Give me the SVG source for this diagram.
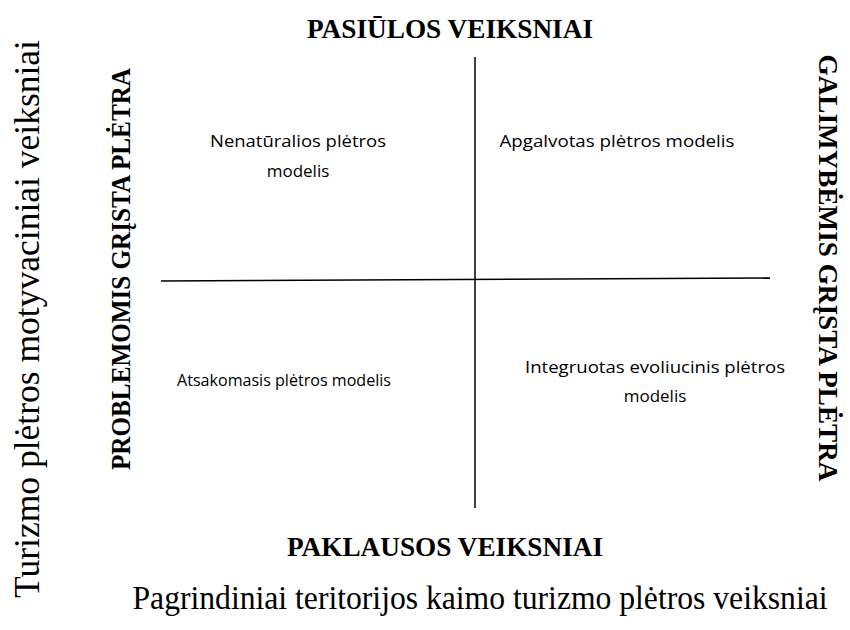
<svg xmlns="http://www.w3.org/2000/svg" width="850" height="630" viewBox="0 0 850 630">
<style>
.tb{font-family:"Liberation Serif","Times New Roman",serif;font-weight:bold;fill:#000}
.tr{font-family:"Liberation Serif","Times New Roman",serif;fill:#000}
.q{font-family:"Open Sans","Noto Sans",sans-serif;font-size:17px;fill:#000}
.ax{stroke:#000;stroke-width:1.5;fill:none}
</style>
<rect width="850" height="630" fill="#fff"/>
<g id="axes">
<line class="ax" x1="475" y1="57" x2="475" y2="508"/>
<line class="ax" x1="161" y1="281" x2="770" y2="278"/>
</g>
<g id="top-label"><text class="tb" x="450" y="38" font-size="28" text-anchor="middle" textLength="286" lengthAdjust="spacingAndGlyphs">PASIŪLOS VEIKSNIAI</text></g>
<g id="bottom-label"><text class="tb" x="445" y="556" font-size="28" text-anchor="middle" textLength="316" lengthAdjust="spacingAndGlyphs">PAKLAUSOS VEIKSNIAI</text></g>
<g id="left-label"><text class="tb" transform="translate(130,269) rotate(-90)" font-size="28" text-anchor="middle" textLength="402" lengthAdjust="spacingAndGlyphs">PROBLEMOMIS GRĮSTA PLĖTRA</text></g>
<g id="right-label"><text class="tb" transform="translate(819,268) rotate(90)" font-size="28" text-anchor="middle" textLength="427" lengthAdjust="spacingAndGlyphs">GALIMYBĖMIS GRĮSTA PLĖTRA</text></g>
<g id="y-axis-title"><text class="tr" transform="translate(39,319) rotate(-90)" font-size="35" text-anchor="middle" textLength="558" lengthAdjust="spacingAndGlyphs">Turizmo plėtros motyvaciniai veiksniai</text></g>
<g id="x-axis-title"><text class="tr" x="480" y="609" font-size="33" text-anchor="middle" textLength="695" lengthAdjust="spacingAndGlyphs">Pagrindiniai teritorijos kaimo turizmo plėtros veiksniai</text></g>
<g id="q1"><text class="q" x="298" y="147" text-anchor="middle" textLength="176" lengthAdjust="spacingAndGlyphs">Nenatūralios plėtros</text><text class="q" x="298" y="177" text-anchor="middle">modelis</text></g>
<g id="q2"><text class="q" x="617" y="147" text-anchor="middle" textLength="235" lengthAdjust="spacingAndGlyphs">Apgalvotas plėtros modelis</text></g>
<g id="q3"><text class="q" x="284" y="386" text-anchor="middle" textLength="214" lengthAdjust="spacingAndGlyphs">Atsakomasis plėtros modelis</text></g>
<g id="q4"><text class="q" x="655" y="373" text-anchor="middle" textLength="260" lengthAdjust="spacingAndGlyphs">Integruotas evoliucinis plėtros</text><text class="q" x="655" y="402" text-anchor="middle">modelis</text></g>
</svg>
